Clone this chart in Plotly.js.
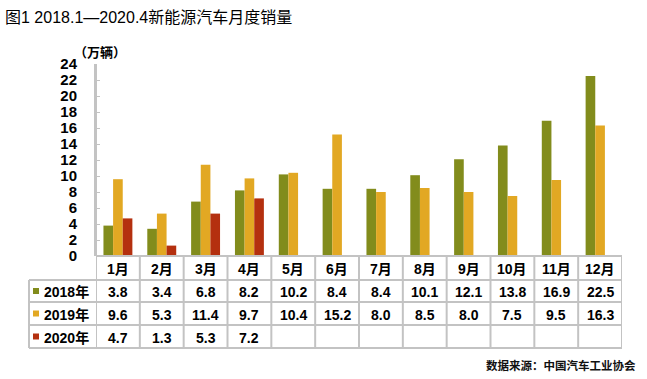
<!DOCTYPE html>
<html>
<head>
<meta charset="utf-8">
<script src="https://cdn.plot.ly/plotly-3.0.1.min.js"></script>
<style>html,body{margin:0;padding:0;background:#fff;}#chart{width:647px;height:379px;}</style>
</head>
<body>
<div id="chart"></div>
<script>
// ---- data ----
const months = ["1月","2月","3月","4月","5月","6月","7月","8月","9月","10月","11月","12月"];
const seriesNames = ["2018年","2019年","2020年"];
const sales2018 = [3.8,3.4,6.8,8.2,10.2,8.4,8.4,10.1,12.1,13.8,16.9,22.5];
const sales2019 = [9.6,5.3,11.4,9.7,10.4,15.2,8.0,8.5,8.0,7.5,9.5,16.3];
const sales2020 = [4.7,1.3,5.3,7.2,null,null,null,null,null,null,null,null];
const yTicks = [0,2,4,6,8,10,12,14,16,18,20,22,24];
const titleText = "图1 2018.1—2020.4新能源汽车月度销量";
const unitText = "（万辆）";
const sourceText = "数据来源：中国汽车工业协会";

// ---- style ----
const colors = ["#828c1c","#e2a823","#b4300f"];
const W = 647, H = 379;
const M = {l:96, r:25, t:64, b:123};
const PW = W - M.l - M.r, PH = H - M.t - M.b;
const px2x = p => (p - M.l) / PW;
const px2y = p => (H - M.b - p) / PH;
const lineCol = "#c3c3c3";
const FONT = "Liberation Sans, Arial, Noto Sans CJK SC, sans-serif";
const CJK = "Noto Sans CJK SC, sans-serif";
const B = t => "<b>" + t + "</b>";

const allSeries = [sales2018, sales2019, sales2020];
const traces = allSeries.map((s,i)=>({
  type:"bar", x:months, y:s, name:seriesNames[i],
  marker:{color:colors[i], line:{width:0}}, hoverinfo:"skip"
}));

// table geometry (px)
const rowEdges = [256, 280, 302, 325, 348];
const leftX = 29;
const shapes = [];
for (let i=0;i<=months.length;i++){
  shapes.push({type:"line", xref:"x", yref:"paper", x0:i-0.5, x1:i-0.5,
    y0: i===0 ? 1 : 0, y1: px2y(rowEdges[4]), line:{color:lineCol, width:2}});
}
shapes.push({type:"line", xref:"paper", yref:"paper", x0:0, x1:1, y0:0, y1:0, line:{color:lineCol,width:2}});
for (let r=1;r<rowEdges.length;r++){
  shapes.push({type:"line", xref:"paper", yref:"paper", x0:px2x(leftX), x1:1,
    y0:px2y(rowEdges[r]), y1:px2y(rowEdges[r]), line:{color:lineCol,width:2}});
}
shapes.push({type:"line", xref:"paper", yref:"paper", x0:px2x(leftX), x1:px2x(leftX),
  y0:px2y(rowEdges[1]), y1:px2y(rowEdges[4]), line:{color:lineCol,width:2}});

const annotations = [];
const tf = {family:FONT, size:14, color:"#000"};
months.forEach(m=>{
  annotations.push({xref:"x", yref:"paper", x:m, y:px2y((rowEdges[0]+rowEdges[1])/2+1),
    xanchor:"center", yanchor:"middle", text:B(m), showarrow:false, font:tf});
});
allSeries.forEach((s,r)=>{
  const yc = (rowEdges[r+1]+rowEdges[r+2])/2;
  shapes.push({type:"rect", xref:"paper", yref:"paper", x0:px2x(33), x1:px2x(39),
    y0:px2y(yc+3), y1:px2y(yc-3), fillcolor:colors[r], line:{width:0}});
  annotations.push({xref:"paper", yref:"paper", x:px2x(42), y:px2y(yc+1), xanchor:"left", yanchor:"middle",
    text:B(seriesNames[r]), showarrow:false, font:tf});
  s.forEach((v,i)=>{
    if (v===null) return;
    annotations.push({xref:"x", yref:"paper", x:months[i], y:px2y(yc+1), xanchor:"center", yanchor:"middle",
      text:B(v.toFixed(1)), showarrow:false, font:tf});
  });
});
annotations.push({xref:"paper", yref:"paper", x:px2x(72), y:px2y(51), xanchor:"left", yanchor:"middle",
  text:B(unitText), showarrow:false, font:{family:CJK, size:13, color:"#000"}});
annotations.push({xref:"paper", yref:"paper", x:px2x(638), y:px2y(365), xanchor:"right", yanchor:"middle",
  text:B(sourceText), showarrow:false, font:{family:CJK, size:11.5, color:"#111"}});

const layout = {
  width:W, height:H, margin:M, paper_bgcolor:"#fff", plot_bgcolor:"#fff",
  showlegend:false, barmode:"group", bargap:0.34, bargroupgap:0,
  title:{text:titleText, x:5/W, xanchor:"left", xref:"container", y:1-17/H, yanchor:"middle", yref:"container",
    font:{family:FONT, size:16, color:"#000"}},
  xaxis:{type:"category", range:[-0.5, months.length-0.5], showticklabels:false, showgrid:false,
    zeroline:false, showline:false, ticks:""},
  yaxis:{range:[0,24], tickvals:yTicks, ticktext:yTicks.map(v=>B(String(v))), showgrid:false, zeroline:false,
    showline:true, linecolor:lineCol, linewidth:2, ticks:"inside", ticklen:4, tickcolor:lineCol, tickwidth:1,
    ticklabelstandoff:14,
    tickfont:{family:FONT, size:15, color:"#000"}},
  shapes, annotations
};
Plotly.newPlot("chart", traces, layout, {staticPlot:true, displayModeBar:false});
</script>
</body>
</html>
